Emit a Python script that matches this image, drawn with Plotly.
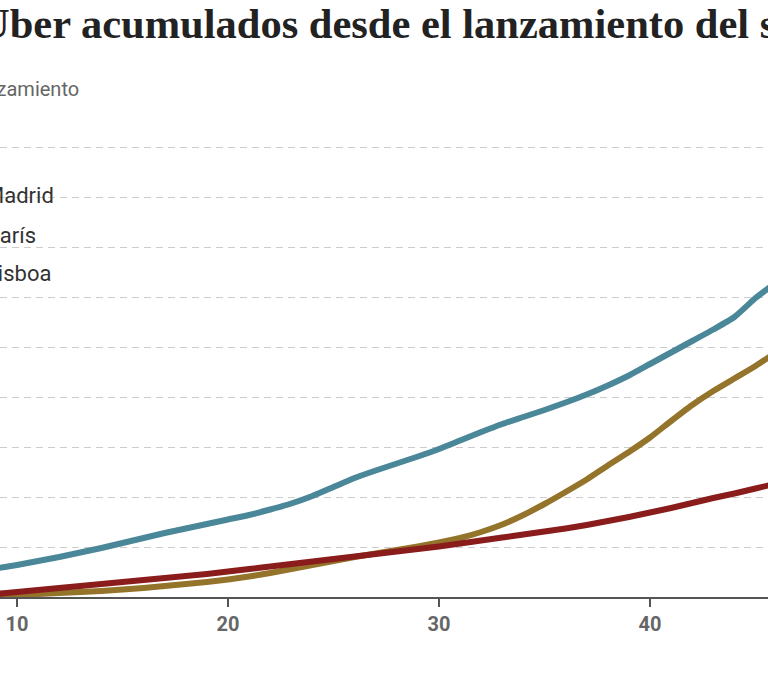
import plotly.graph_objects as go

# Months since launch
months = list(range(8, 47))

madrid = [0.51, 0.57, 0.64, 0.72, 0.80, 0.89, 0.98, 1.08, 1.18, 1.28, 1.37, 1.46, 1.55,
          1.64, 1.75, 1.87, 2.02, 2.20, 2.38, 2.53, 2.67, 2.81, 2.96, 3.13, 3.30, 3.46,
          3.60, 3.74, 3.89, 4.05, 4.23, 4.43, 4.66, 4.89, 5.12, 5.35, 5.60, 5.98, 6.30]
paris = [0.00, 0.02, 0.04, 0.06, 0.08, 0.10, 0.12, 0.15, 0.18, 0.22, 0.26, 0.30, 0.35,
         0.41, 0.48, 0.56, 0.64, 0.72, 0.80, 0.87, 0.94, 1.01, 1.09, 1.18, 1.30, 1.45,
         1.64, 1.86, 2.10, 2.35, 2.63, 2.90, 3.19, 3.52, 3.84, 4.12, 4.37, 4.62, 4.90]
lisboa = [0.03, 0.06, 0.10, 0.14, 0.18, 0.22, 0.26, 0.30, 0.34, 0.38, 0.42, 0.46, 0.51,
          0.56, 0.61, 0.66, 0.71, 0.76, 0.81, 0.86, 0.91, 0.96, 1.01, 1.07, 1.13, 1.19,
          1.25, 1.31, 1.37, 1.44, 1.52, 1.60, 1.69, 1.78, 1.88, 1.98, 2.07, 2.17, 2.27]

series_names = ["Madrid", "París", "Lisboa"]
series_colors = ["#4a8799", "#94732a", "#8a1c1c"]
x_ticks = [10, 20, 30, 40]
grid_ticks = [1, 2, 3, 4, 5, 6, 7, 8, 9]

title_prefix = "Viajes en "
title_main = "Uber acumulados desde el lanzamiento del servicio"
subtitle = "Meses desde el lanzamiento"

W, H = 768, 686
TOP, BOTTOM = 127, 597
PH = BOTTOM - TOP

def px(xp):
    return xp / W

def py(yp):
    return (BOTTOM - yp) / PH

fig = go.Figure()
for name, vals, col in zip(series_names, [madrid, paris, lisboa], series_colors):
    fig.add_trace(go.Scatter(x=months, y=vals, mode="lines", name=name,
                             line=dict(color=col, width=6, shape="spline", smoothing=0.5),
                             hoverinfo="skip"))

annotations = [
    dict(text=title_prefix, x=px(-23), y=py(49), xanchor="right", yanchor="bottom",
         font=dict(family="Liberation Serif", size=42.5, color="#222222", weight="bold")),
    dict(text=title_main, x=px(-23), y=py(49), xanchor="left", yanchor="bottom",
         font=dict(family="Liberation Serif", size=42.5, color="#222222", weight="bold")),
    dict(text=subtitle, x=px(81), y=py(89), xanchor="right", yanchor="middle",
         font=dict(family="Roboto", size=20, color="#666666")),
]
legend_pos = [(56, 195), (38, 236), (53, 273)]
for name, (lx, ly) in zip(series_names, legend_pos):
    annotations.append(dict(text=name, x=px(lx), y=py(ly), xanchor="right", yanchor="middle",
                            font=dict(family="Roboto", size=22, color="#333333")))
for a in annotations:
    a.update(xref="paper", yref="paper", showarrow=False)

x0 = 10 - 17 / 21.1
x1 = 10 + (W - 17) / 21.1

fig.update_layout(
    width=W, height=H,
    margin=dict(l=0, r=0, t=TOP, b=H - BOTTOM, pad=0),
    plot_bgcolor="white", paper_bgcolor="white",
    showlegend=False,
    annotations=annotations,
    xaxis=dict(range=[x0, x1], tickvals=x_ticks, showgrid=False, zeroline=False,
               showline=True, linecolor="#555555", linewidth=1.5,
               ticks="outside", ticklen=8, tickwidth=1.5, tickcolor="#555555",
               tickfont=dict(family="Roboto", size=20, color="#666666", weight="bold")),
    yaxis=dict(range=[0, PH / 50], tickvals=grid_ticks, showticklabels=False,
               showgrid=True, gridcolor="#cccccc", gridwidth=1, griddash="7px,5px",
               zeroline=False, showline=False, ticks=""),
)

fig.write_html("out.html")
